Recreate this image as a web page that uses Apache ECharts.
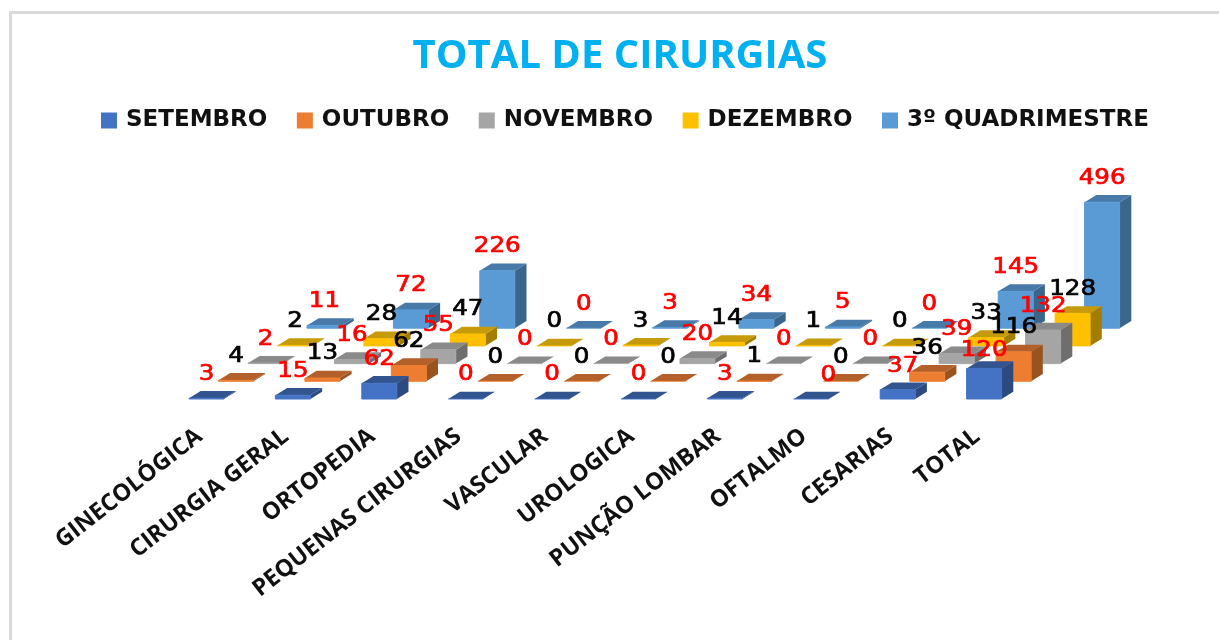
<!DOCTYPE html>
<html>
<head>
<meta charset="utf-8">
<style>html,body{margin:0;padding:0;background:#fff}#c{width:1219px;height:640px}</style>
<script src="https://cdn.jsdelivr.net/npm/echarts@6/dist/echarts.min.js"></script>
</head>
<body>
<div id="c"></div>
<script>
const categories = ['GINECOLÓGICA','CIRURGIA GERAL','ORTOPEDIA','PEQUENAS CIRURGIAS','VASCULAR','UROLOGICA','PUNÇÃO LOMBAR','OFTALMO','CESARIAS','TOTAL'];
const setembro  = [3,15,62,0,0,0,3,0,37,120];
const outubro   = [4,13,62,0,0,0,1,0,36,116];
const novembro  = [2,16,55,0,0,20,0,0,39,132];
const dezembro  = [2,28,47,0,3,14,1,0,33,128];
const quadrimestre = [11,72,226,0,3,34,5,0,145,496];
const seriesNames = ['SETEMBRO','OUTUBRO','NOVEMBRO','DEZEMBRO','3º QUADRIMESTRE'];
const seriesValues = [setembro,outubro,novembro,dezembro,quadrimestre];

const frontColors = ['#4472C4','#ED7D31','#A5A5A5','#FFC000','#5B9BD5'];
const topColors   = ['#32548F','#B3602A','#8A8A8A','#C69A0A','#477AA8'];
const sideColors  = ['#2C4A80','#98531F','#6E6E6E','#A37D00','#3B668C'];
const labelColors = ['#FF0000','#000000','#FF0000','#000000','#FF0000'];

const ROW_DX = 29.5, ROW_DY = -17.7, DEPTH_DX = 11.7, DEPTH_DY = -7.2, BAR_RATIO = 0.405;
const LABEL_DY = -24, LABEL_SCALE_X = 1.17;
// hand-placed data labels in the source: "row|category" -> [dx, dy]
const labelNudge = {'0|7':[17,1],'0|8':[5,1],'0|9':[0,6]};

function renderBar(params, api) {
  const row = params.seriesIndex;
  const cat = api.value(0), val = api.value(1);
  const base = api.coord([cat, 0]), top = api.coord([cat, val]);
  const w = api.size([1, 0])[0] * BAR_RATIO;
  const l = base[0] - w / 2 + ROW_DX * row, r = l + w;
  const b = base[1] + ROW_DY * row, t = top[1] + ROW_DY * row;
  const z = (5 - row) * 3;
  const nudge = labelNudge[row + '|' + cat] || [0, 0];
  return {
    type: 'group',
    children: [
      {type:'polygon', z2:z, shape:{points:[[r,b],[r+DEPTH_DX,b+DEPTH_DY],[r+DEPTH_DX,t+DEPTH_DY],[r,t]]},
        style:{fill:sideColors[row]}},
      {type:'polygon', z2:z+1, shape:{points:[[l,t],[r,t],[r+DEPTH_DX,t+DEPTH_DY],[l+DEPTH_DX,t+DEPTH_DY]]},
        style:{fill:topColors[row]}},
      {type:'rect', z2:z+2, shape:{x:l,y:t,width:w,height:b-t},
        style:{fill:frontColors[row],stroke:frontColors[row],lineWidth:1,opacity:val===0?0.55:1}},
      {type:'text', z2:100, x:(l+r)/2+nudge[0], y:t+LABEL_DY+nudge[1], scaleX:LABEL_SCALE_X,
        style:{text:String(val),x:0,y:0,align:'center',verticalAlign:'middle',
          font:'21px "DejaVu Sans"',fill:labelColors[row],stroke:labelColors[row],lineWidth:0.7}}
    ]
  };
}

const chart = echarts.init(document.getElementById('c'), null, {renderer:'canvas'});
chart.setOption({
  animation:false,
  backgroundColor:'#fff',
  title:{text:'TOTAL DE CIRURGIAS',left:615,top:32,textAlign:'center',
    textStyle:{fontFamily:'"Open Sans"',fontWeight:700,fontSize:40,color:'#00B0F0'}},
  legend:{left:96,top:104,itemWidth:16,itemHeight:16,itemGap:29.5,icon:'rect',
    data:seriesNames,selectedMode:false,
    textStyle:{fontFamily:'"DejaVu Sans"',fontWeight:700,fontSize:23,color:'#111',padding:[0,0,0,4]}},
  grid:{left:163.3,width:864,top:272,height:127},
  xAxis:{type:'category',data:categories,
    axisLine:{show:false},axisTick:{show:false},
    axisLabel:{interval:0,rotate:38,margin:29,padding:[0,9,0,0],fontFamily:'"Open Sans"',fontWeight:700,fontSize:23.5,color:'#111'}},
  yAxis:{type:'value',min:0,max:500,show:false},
  series:seriesNames.map((name,i)=>({
    name,type:'custom',renderItem:renderBar,
    itemStyle:{color:frontColors[i]},
    encode:{x:0,y:1},
    data:seriesValues[i].map((v,k)=>[k,v])
  })),
  graphic:[
    {type:'rect',silent:true,shape:{x:9,y:11,width:1210,height:3},style:{fill:'#D9D9D9'}},
    {type:'rect',silent:true,shape:{x:9,y:11,width:3,height:629},style:{fill:'#D9D9D9'}}
  ]
});
</script>
</body>
</html>
